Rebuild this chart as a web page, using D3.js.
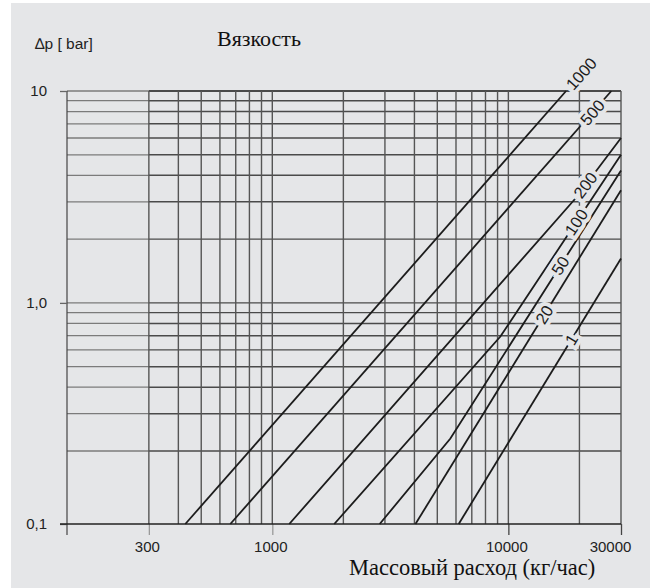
<!DOCTYPE html>
<html>
<head>
<meta charset="utf-8">
<script src="https://cdn.jsdelivr.net/npm/d3@7"></script>
<style>
  body { margin: 0; background: #fff; }
  svg { display: block; }
</style>
</head>
<body>
<script>
var w = 650, h = 588;

// axis ticks
var xTickValues = [300, 1000, 10000, 30000];
var xTickLabels = ["300", "1000", "10000", "30000"];
var yTickValues = [0.1, 1, 10];
var yTickLabels = ["0,1", "1,0", "10"];

// grid lines
var xGrid = [300, 400, 500, 600, 700, 800, 900, 1000, 2000, 3000, 4000, 5000, 6000, 7000, 8000, 9000, 10000, 20000, 30000];
var yGrid = [0.2, 0.3, 0.4, 0.5, 0.6, 0.7, 0.8, 0.9, 1, 2, 3, 4, 5, 6, 7, 8, 9, 10];

// viscosity curves: mass flow (kg/h) and pressure drop (bar)
var viscosity = ["1000", "500", "200", "100", "50", "20", "1"];
var flow = [
  [428, 17560],
  [664, 27300],
  [1180, 19230, 30000],
  [1830, 9250, 30000],
  [2850, 5680, 30000],
  [4040, 30000],
  [6160, 30000]
];
var dp = [
  [0.1, 10],
  [0.1, 10],
  [0.1, 3.11, 6.0],
  [0.1, 0.694, 5.0],
  [0.1, 0.229, 4.22],
  [0.1, 3.4],
  [0.1, 1.62]
];
// mass flow where each viscosity label sits on its curve
var labelFlow = [20370, 22700, 21200, 19400, 16600, 14200, 18500];

var bg = "#e5e6e8";

var svg = d3.select("body").append("svg")
  .attr("width", w)
  .attr("height", h);

svg.append("rect")
  .attr("x", 11).attr("y", 3)
  .attr("width", w - 11).attr("height", h - 3)
  .attr("fill", bg);

var x = d3.scaleLog().domain([135, 30000]).range([67, 621]);
var y = d3.scaleLog().domain([0.1, 0.2, 10]).range([524, 451, 91]);

var x0 = x.range()[0], x1 = x.range()[1];
var yTop = y(10), yBot = y(0.1);

// horizontal grid, lighter left of 300
var grid = svg.append("g");
grid.selectAll(".hl").data(yGrid).enter().append("line")
  .attr("x1", x0).attr("x2", x(300))
  .attr("y1", function (d) { return y(d); })
  .attr("y2", function (d) { return y(d); })
  .attr("stroke", "#7b7b7b")
  .attr("stroke-width", 1.3);
grid.selectAll(".hr").data(yGrid).enter().append("line")
  .attr("x1", x(300)).attr("x2", x1)
  .attr("y1", function (d) { return y(d); })
  .attr("y2", function (d) { return y(d); })
  .attr("stroke", "#4a4a4a")
  .attr("stroke-width", function (d) { return d == 10 ? 2 : 1.4; });

// vertical grid
grid.selectAll(".v").data(xGrid).enter().append("line")
  .attr("x1", function (d) { return x(d); })
  .attr("x2", function (d) { return x(d); })
  .attr("y1", yTop).attr("y2", yBot)
  .attr("stroke", "#555")
  .attr("stroke-width", 1.4);

// left frame line
svg.append("line")
  .attr("x1", x0).attr("x2", x0)
  .attr("y1", yTop).attr("y2", yBot + 11)
  .attr("stroke", "#444").attr("stroke-width", 1.2);

// axes
var yAxis = d3.axisLeft(y)
  .tickValues(yTickValues)
  .tickFormat(function (d, i) { return yTickLabels[i]; })
  .tickSize(7)
  .tickPadding(13);

svg.append("g")
  .attr("transform", "translate(" + x0 + ",0)")
  .call(yAxis)
  .call(function (g) {
    g.select(".domain").remove();
    g.selectAll(".tick line").attr("stroke", "#666").attr("stroke-width", 1.3);
    g.selectAll(".tick text")
      .attr("font-family", "'Liberation Sans', Arial, sans-serif")
      .attr("font-size", 15)
      .attr("fill", "#222");
  });

var xAxis = d3.axisBottom(x)
  .tickValues(xTickValues)
  .tickFormat(function (d, i) { return xTickLabels[i]; })
  .tickSize(11)
  .tickPadding(6);

svg.append("g")
  .attr("transform", "translate(0," + yBot + ")")
  .call(xAxis)
  .call(function (g) {
    g.select(".domain").remove();
    g.selectAll(".tick line")
      .attr("stroke", function (d) { return d < 5000 ? "#9a9a9a" : "#444"; })
      .attr("stroke-width", 1.3);
    g.selectAll(".tick text")
      .attr("font-family", "'Liberation Sans', Arial, sans-serif")
      .attr("font-size", 15)
      .attr("fill", "#222")
      .attr("dx", function (d) { return d == 30000 ? -11 : -2; });
  });

// bottom line at 0.1
svg.append("line")
  .attr("x1", x0 - 7).attr("x2", x1)
  .attr("y1", yBot).attr("y2", yBot)
  .attr("stroke", "#222").attr("stroke-width", 1.4);

// curves
var line = d3.line()
  .x(function (d) { return x(d[0]); })
  .y(function (d) { return y(d[1]); });

var curves = viscosity.map(function (v, i) {
  return flow[i].map(function (f, j) { return [f, dp[i][j]]; });
});

svg.append("g").selectAll("path")
  .data(curves)
  .enter().append("path")
  .attr("d", line)
  .attr("fill", "none")
  .attr("stroke", "#1c1c1c")
  .attr("stroke-width", 1.8);

// labels placed along each curve
function labelPos(pts, lf) {
  var px = x(lf);
  var p = pts.map(function (d) { return [x(d[0]), y(d[1])]; });
  var k = 0;
  while (k < p.length - 2 && px > p[k + 1][0]) k++;
  var a = p[k], b = p[k + 1];
  var t = (px - a[0]) / (b[0] - a[0]);
  var py = a[1] + t * (b[1] - a[1]);
  var ang = Math.atan2(b[1] - a[1], b[0] - a[0]) * 180 / Math.PI;
  return [px, py, ang];
}

svg.append("g").selectAll("text")
  .data(viscosity)
  .enter().append("text")
  .attr("transform", function (d, i) {
    var p = labelPos(curves[i], labelFlow[i]);
    return "translate(" + p[0] + "," + p[1] + ") rotate(" + p[2] + ")";
  })
  .attr("text-anchor", "middle")
  .attr("dy", "0.35em")
  .attr("font-family", "'Liberation Sans', Arial, sans-serif")
  .attr("font-size", 16.5)
  .attr("fill", "#1c1c1c")
  .attr("stroke", bg)
  .attr("stroke-width", 8)
  .attr("paint-order", "stroke")
  .text(function (d) { return d; });

// titles
svg.append("text")
  .attr("x", 35).attr("y", 49)
  .attr("font-family", "'Liberation Sans', Arial, sans-serif")
  .attr("font-size", 15.5)
  .attr("fill", "#222")
  .text("\u2206p [ bar]");

svg.append("text")
  .attr("x", 217).attr("y", 46)
  .attr("font-family", "'Liberation Serif', 'Times New Roman', serif")
  .attr("font-size", 22)
  .attr("fill", "#111")
  .text("Вязкость");

svg.append("text")
  .attr("x", 349).attr("y", 575)
  .attr("font-family", "'Liberation Serif', 'Times New Roman', serif")
  .attr("font-size", 22.5)
  .attr("fill", "#111")
  .text("Массовый расход (кг/час)");
</script>
</body>
</html>
